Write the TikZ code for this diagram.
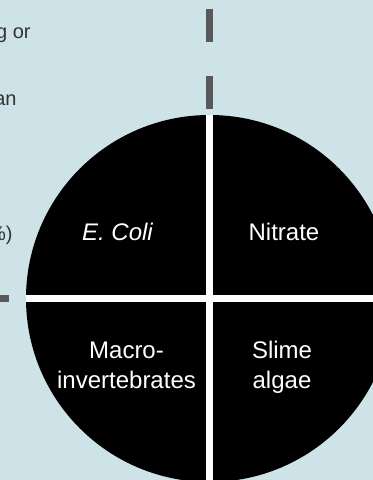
\documentclass[tikz,border=0pt]{standalone}
\usepackage{fontspec}
\setmainfont{Liberation Sans}
\usetikzlibrary{positioning}
\definecolor{bgblue}{RGB}{205,227,232}
\definecolor{guidegray}{RGB}{89,89,89}
\definecolor{sidegray}{RGB}{51,51,51}

\begin{document}
\begin{tikzpicture}[x=0.5pt,y=-0.5pt,
    quad/.style={text=white,align=center,anchor=base,font=\fontsize{12}{15}\selectfont},
    side/.style={text=sidegray,anchor=base east,inner sep=0pt,font=\fontsize{10}{12}\selectfont},
    guide/.style={draw=guidegray,line width=3.5pt,dash pattern=on 16.5pt off 17pt},
    cut/.style={draw=white,line width=3.5pt}]
  \useasboundingbox (0,0) rectangle (373,480);
  \clip (0,0) rectangle (373,480);
  \fill[bgblue] (0,0) rectangle (373,480);

  % text of the left column, cut by the frame
  \node[side] (s1) at (31,39) {g or};
  \node[side] (s2) at (17,106) {an};
  \node[side] (s3) at (13,241) {\%)};

  % guide lines behind the circle
  \coordinate (mid) at (209.5,298.5);
  \coordinate (top) at (209.5,9);
  \coordinate (lft) at (-40,298.5);
  \draw[guide] (top) -- (mid);
  \draw[guide] (mid) -- (lft);

  \node[circle,fill=black,minimum size=183.5pt,inner sep=0pt] (pond) at (mid) {};
  \draw[cut] (pond.north) -- (pond.south);
  \draw[cut] (pond.west) -- (pond.east);

  \node[quad] (ecoli) at (117.5,241) {\itshape E. Coli};
  \node[quad] (nitrate) at (284,241) {Nitrate};
  \node[quad] (macro) at (126.5,388) {Macro-\\invertebrates};
  \node[quad] (slime) at (282,388) {Slime\\algae};
\end{tikzpicture}
\end{document}
